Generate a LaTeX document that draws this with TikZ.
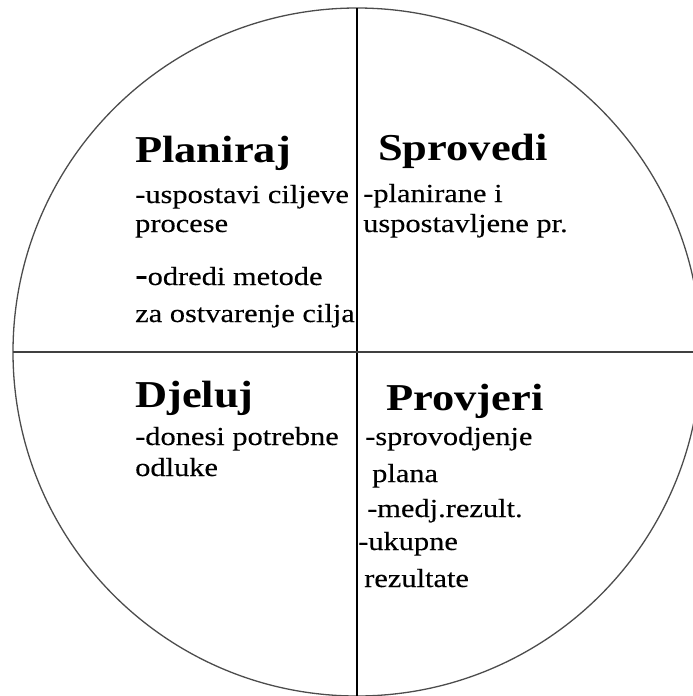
\documentclass[tikz,border=0pt]{standalone}
\usepackage{fontspec}
\setmainfont{Liberation Serif}[FakeStretch=1.17]
\newfontfamily\bodyfont{Liberation Serif}[FakeStretch=1.17,FakeBold=0.25]
\begin{document}
\begin{tikzpicture}[x=1pt,y=-1pt,
  head/.style={anchor=base west,inner sep=0pt,font=\fontsize{38}{40}\selectfont\bfseries},
  body/.style={anchor=base west,inner sep=0pt,font=\bodyfont\fontsize{26}{28}\selectfont},
  ring/.style={draw=black!70,line width=1.3pt},
  divider/.style={draw=black,line width=1.1pt}]
\useasboundingbox (0,0) rectangle (693,696);
\clip (0,0) rectangle (693,696);
\coordinate (c) at (357,352);
\coordinate (vtop) at (357,8);
\coordinate (vbot) at (357,696);
\coordinate (hleft) at (13,352);
\coordinate (hright) at (693,352);
\draw[ring] (c) circle (344pt);
\draw[divider] (vtop) -- (vbot);
\draw[divider,draw=black!75,line width=1.8pt] (hleft) -- (hright);
% top left
\node[head] (plan) at (135,162) {Planiraj};
\node[body] (p1) at (135,203) {-uspostavi ciljeve};
\node[body] (p2) at (135,232) {procese};
\node[body] (p3) at (135,285) {{\fontsize{32}{34}\selectfont\bfseries -}odredi metode};
\node[body] (p4) at (135,322) {za ostvarenje cilja};
% top right
\node[head] (spro) at (378,160) {Sprovedi};
\node[body] (s1) at (363,202) {-planirane i};
\node[body] (s2) at (363,232) {uspostavljene pr.};
% bottom left
\node[head] (djel) at (135,407) {Djeluj};
\node[body] (d1) at (135,445) {-donesi potrebne};
\node[body] (d2) at (135,476) {odluke};
% bottom right
\node[head] (prov) at (386,410) {Provjeri};
\node[body] (r1) at (365,445) {-sprovodjenje};
\node[body] (r2) at (372,482) {plana};
\node[body] (r3) at (367,517) {-medj.rezult.};
\node[body] (r4) at (358,550) {-ukupne};
\node[body] (r5) at (364,587) {rezultate};
\end{tikzpicture}
\end{document}
